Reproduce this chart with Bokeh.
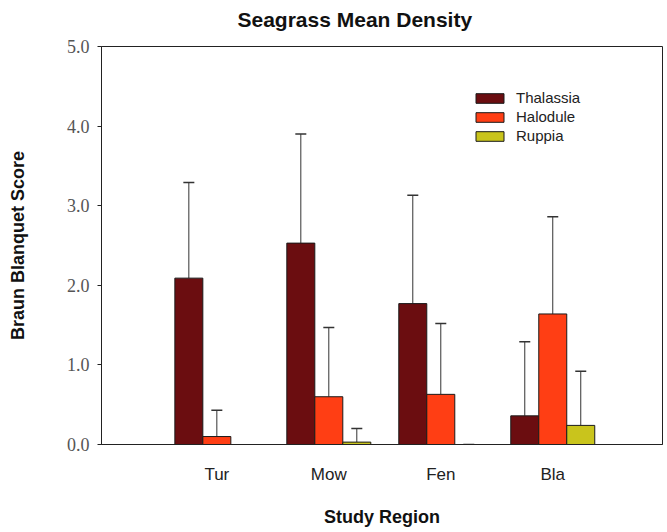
from bokeh.plotting import figure
from bokeh.models import ColumnDataSource, Whisker, TeeHead, FixedTicker, NumeralTickFormatter, Range1d, Title
from bokeh.embed import file_html
from bokeh.resources import INLINE

title_text = "Seagrass Mean Density"
regions = ["Tur", "Mow", "Fen", "Bla"]
species = ["Thalassia", "Halodule", "Ruppia"]
thalassia = [2.09, 2.53, 1.77, 0.36]
thalassia_err = [1.20, 1.37, 1.36, 0.93]
halodule = [0.10, 0.60, 0.63, 1.64]
halodule_err = [0.33, 0.87, 0.89, 1.22]
ruppia = [None, 0.03, 0.0, 0.24]
ruppia_err = [None, 0.17, 0.0, 0.68]
colors = ["#6b0d10", "#ff3e14", "#c9c41c"]

p = figure(width=667, height=532, output_backend="svg", toolbar_location=None,
           x_range=Range1d(-0.03, 4.98), y_range=Range1d(0, 5),
           min_border_left=101, min_border_right=5, min_border_top=46, min_border_bottom=88)

p.title.text = title_text
p.title.align = "left"
p.title.text_font = "Liberation Sans"
p.title.text_font_size = "21px"
p.title.text_font_style = "bold"
p.title.text_color = "#111111"
p.title.offset = 136
p.title.standoff = 0

# empty spacer between title and frame
p.add_layout(Title(text=" ", text_font_size="12px", standoff=0), "above")

offsets = [-0.25, 0.0, 0.25]
series = [(thalassia, thalassia_err), (halodule, halodule_err), (ruppia, ruppia_err)]
for k, (vals, errs) in enumerate(series):
    xs, tops, lows, ups = [], [], [], []
    for i, (v, e) in enumerate(zip(vals, errs)):
        if v is None:
            continue
        xs.append(i + 1 + offsets[k])
        tops.append(v)
        lows.append(v)
        ups.append(v + e)
    src = ColumnDataSource(dict(x=xs, top=tops, lower=lows, upper=ups))
    p.vbar(x="x", top="top", bottom=0, width=0.25, source=src,
           fill_color=colors[k], line_color="#1a1a1a", line_width=1,
           legend_label=species[k])
    w = Whisker(base="x", lower="lower", upper="upper", source=src,
                line_color="#333333", line_width=1,
                upper_head=TeeHead(size=11, line_color="#333333", line_width=1.5),
                lower_head=None)
    p.add_layout(w)

p.grid.visible = False
p.outline_line_color = "#222222"
p.outline_line_width = 1

p.xaxis.ticker = FixedTicker(ticks=[1, 2, 3, 4])
p.xaxis.major_label_overrides = {i + 1: r for i, r in enumerate(regions)}
p.xaxis.major_tick_line_color = None
p.xaxis.minor_tick_line_color = None
p.xaxis.major_label_text_font = "Liberation Sans"
p.xaxis.major_label_text_font_size = "17px"
p.xaxis.major_label_text_color = "#222222"
p.xaxis.major_label_standoff = 14
p.xaxis.axis_label = "Study Region"
p.xaxis.axis_label_text_font = "Liberation Sans"
p.xaxis.axis_label_text_font_size = "18px"
p.xaxis.axis_label_text_font_style = "bold"
p.xaxis.axis_label_text_color = "#111111"
p.xaxis.axis_label_standoff = 20
p.xaxis.axis_line_color = "#222222"

p.yaxis.ticker = FixedTicker(ticks=[0, 1, 2, 3, 4, 5])
p.yaxis.formatter = NumeralTickFormatter(format="0.0")
p.yaxis.minor_tick_line_color = None
p.yaxis.major_tick_out = 4
p.yaxis.major_tick_in = 0
p.yaxis.major_tick_line_color = "#222222"
p.yaxis.major_label_text_font = "Liberation Serif"
p.yaxis.major_label_text_font_size = "18px"
p.yaxis.major_label_text_color = "#555555"
p.yaxis.major_label_standoff = 8
p.yaxis.axis_label = "Braun Blanquet Score"
p.yaxis.axis_label_text_font = "Liberation Sans"
p.yaxis.axis_label_text_font_size = "18px"
p.yaxis.axis_label_text_font_style = "bold"
p.yaxis.axis_label_text_color = "#111111"
p.yaxis.axis_label_standoff = 36
p.yaxis.axis_line_color = "#222222"

lg = p.legend[0]
lg.location = (371, 300)
lg.border_line_color = None
lg.background_fill_alpha = 0
lg.glyph_width = 35
lg.glyph_height = 12
lg.label_height = 16
lg.spacing = 2
lg.padding = 4
lg.label_text_font = "Liberation Sans"
lg.label_text_font_size = "15px"
lg.label_text_color = "#222222"
lg.label_standoff = 9

open("out.html", "w").write(file_html(p, INLINE))
